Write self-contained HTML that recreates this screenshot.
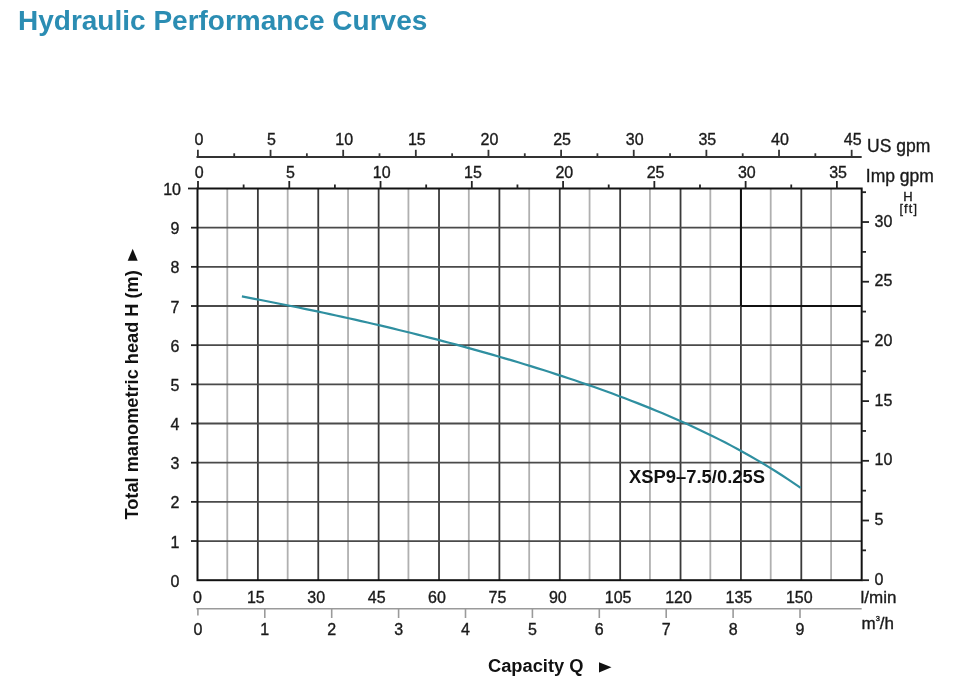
<!DOCTYPE html>
<html><head><meta charset="utf-8"><style>
html,body{margin:0;padding:0;background:#fff;width:971px;height:693px;overflow:hidden}
svg{display:block;filter:blur(0.4px);font-family:"Liberation Sans",sans-serif}
</style></head><body>
<svg width="971" height="693" viewBox="0 0 971 693">
<line x1="227.29" y1="188.50" x2="227.29" y2="580.20" stroke="#b0b0b0" stroke-width="1.8"/>
<line x1="257.88" y1="188.50" x2="257.88" y2="580.20" stroke="#3a3a3a" stroke-width="1.8"/>
<line x1="287.67" y1="188.50" x2="287.67" y2="580.20" stroke="#b0b0b0" stroke-width="1.8"/>
<line x1="318.26" y1="188.50" x2="318.26" y2="580.20" stroke="#3a3a3a" stroke-width="1.8"/>
<line x1="348.05" y1="188.50" x2="348.05" y2="580.20" stroke="#b0b0b0" stroke-width="1.8"/>
<line x1="378.64" y1="188.50" x2="378.64" y2="580.20" stroke="#3a3a3a" stroke-width="1.8"/>
<line x1="408.43" y1="188.50" x2="408.43" y2="580.20" stroke="#b0b0b0" stroke-width="1.8"/>
<line x1="439.02" y1="188.50" x2="439.02" y2="580.20" stroke="#3a3a3a" stroke-width="1.8"/>
<line x1="468.81" y1="188.50" x2="468.81" y2="580.20" stroke="#b0b0b0" stroke-width="1.8"/>
<line x1="499.40" y1="188.50" x2="499.40" y2="580.20" stroke="#3a3a3a" stroke-width="1.8"/>
<line x1="529.19" y1="188.50" x2="529.19" y2="580.20" stroke="#b0b0b0" stroke-width="1.8"/>
<line x1="559.78" y1="188.50" x2="559.78" y2="580.20" stroke="#3a3a3a" stroke-width="1.8"/>
<line x1="589.57" y1="188.50" x2="589.57" y2="580.20" stroke="#b0b0b0" stroke-width="1.8"/>
<line x1="620.16" y1="188.50" x2="620.16" y2="580.20" stroke="#3a3a3a" stroke-width="1.8"/>
<line x1="649.95" y1="188.50" x2="649.95" y2="580.20" stroke="#b0b0b0" stroke-width="1.8"/>
<line x1="680.54" y1="188.50" x2="680.54" y2="580.20" stroke="#3a3a3a" stroke-width="1.8"/>
<line x1="710.33" y1="188.50" x2="710.33" y2="580.20" stroke="#b0b0b0" stroke-width="1.8"/>
<line x1="740.92" y1="188.50" x2="740.92" y2="580.20" stroke="#3a3a3a" stroke-width="1.8"/>
<line x1="770.71" y1="188.50" x2="770.71" y2="580.20" stroke="#b0b0b0" stroke-width="1.8"/>
<line x1="801.30" y1="188.50" x2="801.30" y2="580.20" stroke="#3a3a3a" stroke-width="1.8"/>
<line x1="831.09" y1="188.50" x2="831.09" y2="580.20" stroke="#b0b0b0" stroke-width="1.8"/>
<line x1="197.50" y1="541.03" x2="861.68" y2="541.03" stroke="#4a4a4a" stroke-width="1.8"/>
<line x1="197.50" y1="501.86" x2="861.68" y2="501.86" stroke="#4a4a4a" stroke-width="1.8"/>
<line x1="197.50" y1="462.69" x2="861.68" y2="462.69" stroke="#4a4a4a" stroke-width="1.8"/>
<line x1="197.50" y1="423.52" x2="861.68" y2="423.52" stroke="#4a4a4a" stroke-width="1.8"/>
<line x1="197.50" y1="384.35" x2="861.68" y2="384.35" stroke="#4a4a4a" stroke-width="1.8"/>
<line x1="197.50" y1="345.18" x2="861.68" y2="345.18" stroke="#4a4a4a" stroke-width="1.8"/>
<line x1="197.50" y1="306.01" x2="861.68" y2="306.01" stroke="#4a4a4a" stroke-width="1.8"/>
<line x1="197.50" y1="266.84" x2="861.68" y2="266.84" stroke="#4a4a4a" stroke-width="1.8"/>
<line x1="197.50" y1="227.67" x2="861.68" y2="227.67" stroke="#4a4a4a" stroke-width="1.8"/>
<line x1="740.92" y1="188.50" x2="740.92" y2="306.01" stroke="#111" stroke-width="2"/>
<line x1="740.92" y1="306.01" x2="861.68" y2="306.01" stroke="#111" stroke-width="2"/>
<rect x="197.50" y="188.50" width="664.18" height="391.70" fill="none" stroke="#111" stroke-width="2"/>
<text x="179.50" y="586.80" font-size="16" text-anchor="end" font-weight="normal" fill="#1a1a1a" stroke="#1a1a1a" stroke-width="0.35" >0</text>
<line x1="191.00" y1="541.03" x2="197.50" y2="541.03" stroke="#222" stroke-width="1.8"/>
<text x="179.50" y="547.63" font-size="16" text-anchor="end" font-weight="normal" fill="#1a1a1a" stroke="#1a1a1a" stroke-width="0.35" >1</text>
<line x1="191.00" y1="501.86" x2="197.50" y2="501.86" stroke="#222" stroke-width="1.8"/>
<text x="179.50" y="508.46" font-size="16" text-anchor="end" font-weight="normal" fill="#1a1a1a" stroke="#1a1a1a" stroke-width="0.35" >2</text>
<line x1="191.00" y1="462.69" x2="197.50" y2="462.69" stroke="#222" stroke-width="1.8"/>
<text x="179.50" y="469.29" font-size="16" text-anchor="end" font-weight="normal" fill="#1a1a1a" stroke="#1a1a1a" stroke-width="0.35" >3</text>
<line x1="191.00" y1="423.52" x2="197.50" y2="423.52" stroke="#222" stroke-width="1.8"/>
<text x="179.50" y="430.12" font-size="16" text-anchor="end" font-weight="normal" fill="#1a1a1a" stroke="#1a1a1a" stroke-width="0.35" >4</text>
<line x1="191.00" y1="384.35" x2="197.50" y2="384.35" stroke="#222" stroke-width="1.8"/>
<text x="179.50" y="390.95" font-size="16" text-anchor="end" font-weight="normal" fill="#1a1a1a" stroke="#1a1a1a" stroke-width="0.35" >5</text>
<line x1="191.00" y1="345.18" x2="197.50" y2="345.18" stroke="#222" stroke-width="1.8"/>
<text x="179.50" y="351.78" font-size="16" text-anchor="end" font-weight="normal" fill="#1a1a1a" stroke="#1a1a1a" stroke-width="0.35" >6</text>
<line x1="191.00" y1="306.01" x2="197.50" y2="306.01" stroke="#222" stroke-width="1.8"/>
<text x="179.50" y="312.61" font-size="16" text-anchor="end" font-weight="normal" fill="#1a1a1a" stroke="#1a1a1a" stroke-width="0.35" >7</text>
<line x1="191.00" y1="266.84" x2="197.50" y2="266.84" stroke="#222" stroke-width="1.8"/>
<text x="179.50" y="273.44" font-size="16" text-anchor="end" font-weight="normal" fill="#1a1a1a" stroke="#1a1a1a" stroke-width="0.35" >8</text>
<line x1="191.00" y1="227.67" x2="197.50" y2="227.67" stroke="#222" stroke-width="1.8"/>
<text x="179.50" y="234.27" font-size="16" text-anchor="end" font-weight="normal" fill="#1a1a1a" stroke="#1a1a1a" stroke-width="0.35" >9</text>
<line x1="188.00" y1="188.50" x2="197.50" y2="188.50" stroke="#222" stroke-width="1.8"/>
<text x="181.00" y="195.10" font-size="16" text-anchor="end" font-weight="normal" fill="#1a1a1a" stroke="#1a1a1a" stroke-width="0.35" >10</text>
<line x1="861.68" y1="580.20" x2="869.00" y2="580.20" stroke="#222" stroke-width="1.8"/>
<text x="874.50" y="584.80" font-size="16" text-anchor="start" font-weight="normal" fill="#1a1a1a" stroke="#1a1a1a" stroke-width="0.35" >0</text>
<line x1="861.68" y1="550.35" x2="866.00" y2="550.35" stroke="#222" stroke-width="1.8"/>
<line x1="861.68" y1="520.50" x2="869.00" y2="520.50" stroke="#222" stroke-width="1.8"/>
<text x="874.50" y="525.10" font-size="16" text-anchor="start" font-weight="normal" fill="#1a1a1a" stroke="#1a1a1a" stroke-width="0.35" >5</text>
<line x1="861.68" y1="490.66" x2="866.00" y2="490.66" stroke="#222" stroke-width="1.8"/>
<line x1="861.68" y1="460.81" x2="869.00" y2="460.81" stroke="#222" stroke-width="1.8"/>
<text x="874.50" y="465.41" font-size="16" text-anchor="start" font-weight="normal" fill="#1a1a1a" stroke="#1a1a1a" stroke-width="0.35" >10</text>
<line x1="861.68" y1="430.96" x2="866.00" y2="430.96" stroke="#222" stroke-width="1.8"/>
<line x1="861.68" y1="401.11" x2="869.00" y2="401.11" stroke="#222" stroke-width="1.8"/>
<text x="874.50" y="405.71" font-size="16" text-anchor="start" font-weight="normal" fill="#1a1a1a" stroke="#1a1a1a" stroke-width="0.35" >15</text>
<line x1="861.68" y1="371.26" x2="866.00" y2="371.26" stroke="#222" stroke-width="1.8"/>
<line x1="861.68" y1="341.42" x2="869.00" y2="341.42" stroke="#222" stroke-width="1.8"/>
<text x="874.50" y="346.02" font-size="16" text-anchor="start" font-weight="normal" fill="#1a1a1a" stroke="#1a1a1a" stroke-width="0.35" >20</text>
<line x1="861.68" y1="311.57" x2="866.00" y2="311.57" stroke="#222" stroke-width="1.8"/>
<line x1="861.68" y1="281.72" x2="869.00" y2="281.72" stroke="#222" stroke-width="1.8"/>
<text x="874.50" y="286.32" font-size="16" text-anchor="start" font-weight="normal" fill="#1a1a1a" stroke="#1a1a1a" stroke-width="0.35" >25</text>
<line x1="861.68" y1="251.87" x2="866.00" y2="251.87" stroke="#222" stroke-width="1.8"/>
<line x1="861.68" y1="222.03" x2="869.00" y2="222.03" stroke="#222" stroke-width="1.8"/>
<text x="874.50" y="226.63" font-size="16" text-anchor="start" font-weight="normal" fill="#1a1a1a" stroke="#1a1a1a" stroke-width="0.35" >30</text>
<line x1="861.68" y1="192.18" x2="866.00" y2="192.18" stroke="#222" stroke-width="1.8"/>
<text x="908.00" y="201.20" font-size="13" text-anchor="middle" font-weight="normal" fill="#1a1a1a" stroke="#1a1a1a" stroke-width="0.35" >H</text>
<text x="908.80" y="213.20" font-size="12.5" text-anchor="middle" font-weight="normal" fill="#1a1a1a" stroke="#1a1a1a" stroke-width="0.35" letter-spacing="1.2">[ft]</text>
<line x1="198.00" y1="181.00" x2="198.00" y2="188.50" stroke="#222" stroke-width="1.8"/>
<text x="199.20" y="177.60" font-size="16" text-anchor="middle" font-weight="normal" fill="#1a1a1a" stroke="#1a1a1a" stroke-width="0.35" >0</text>
<line x1="243.63" y1="184.50" x2="243.63" y2="188.50" stroke="#222" stroke-width="1.8"/>
<line x1="289.27" y1="181.00" x2="289.27" y2="188.50" stroke="#222" stroke-width="1.8"/>
<text x="290.47" y="177.60" font-size="16" text-anchor="middle" font-weight="normal" fill="#1a1a1a" stroke="#1a1a1a" stroke-width="0.35" >5</text>
<line x1="334.90" y1="184.50" x2="334.90" y2="188.50" stroke="#222" stroke-width="1.8"/>
<line x1="380.54" y1="181.00" x2="380.54" y2="188.50" stroke="#222" stroke-width="1.8"/>
<text x="381.74" y="177.60" font-size="16" text-anchor="middle" font-weight="normal" fill="#1a1a1a" stroke="#1a1a1a" stroke-width="0.35" >10</text>
<line x1="426.17" y1="184.50" x2="426.17" y2="188.50" stroke="#222" stroke-width="1.8"/>
<line x1="471.81" y1="181.00" x2="471.81" y2="188.50" stroke="#222" stroke-width="1.8"/>
<text x="473.01" y="177.60" font-size="16" text-anchor="middle" font-weight="normal" fill="#1a1a1a" stroke="#1a1a1a" stroke-width="0.35" >15</text>
<line x1="517.44" y1="184.50" x2="517.44" y2="188.50" stroke="#222" stroke-width="1.8"/>
<line x1="563.08" y1="181.00" x2="563.08" y2="188.50" stroke="#222" stroke-width="1.8"/>
<text x="564.28" y="177.60" font-size="16" text-anchor="middle" font-weight="normal" fill="#1a1a1a" stroke="#1a1a1a" stroke-width="0.35" >20</text>
<line x1="608.71" y1="184.50" x2="608.71" y2="188.50" stroke="#222" stroke-width="1.8"/>
<line x1="654.35" y1="181.00" x2="654.35" y2="188.50" stroke="#222" stroke-width="1.8"/>
<text x="655.55" y="177.60" font-size="16" text-anchor="middle" font-weight="normal" fill="#1a1a1a" stroke="#1a1a1a" stroke-width="0.35" >25</text>
<line x1="699.98" y1="184.50" x2="699.98" y2="188.50" stroke="#222" stroke-width="1.8"/>
<line x1="745.62" y1="181.00" x2="745.62" y2="188.50" stroke="#222" stroke-width="1.8"/>
<text x="746.82" y="177.60" font-size="16" text-anchor="middle" font-weight="normal" fill="#1a1a1a" stroke="#1a1a1a" stroke-width="0.35" >30</text>
<line x1="791.25" y1="184.50" x2="791.25" y2="188.50" stroke="#222" stroke-width="1.8"/>
<line x1="836.89" y1="181.00" x2="836.89" y2="188.50" stroke="#222" stroke-width="1.8"/>
<text x="838.09" y="177.60" font-size="16" text-anchor="middle" font-weight="normal" fill="#1a1a1a" stroke="#1a1a1a" stroke-width="0.35" >35</text>
<text x="865.80" y="181.50" font-size="17.5" text-anchor="start" font-weight="normal" fill="#1a1a1a" stroke="#1a1a1a" stroke-width="0.35" >Imp gpm</text>
<line x1="196.50" y1="157.10" x2="861.68" y2="157.10" stroke="#333" stroke-width="2"/>
<line x1="197.90" y1="149.80" x2="197.90" y2="157.10" stroke="#333" stroke-width="1.8"/>
<text x="198.90" y="145.40" font-size="16" text-anchor="middle" font-weight="normal" fill="#1a1a1a" stroke="#1a1a1a" stroke-width="0.35" >0</text>
<line x1="234.22" y1="153.30" x2="234.22" y2="157.10" stroke="#333" stroke-width="1.8"/>
<line x1="270.54" y1="149.80" x2="270.54" y2="157.10" stroke="#333" stroke-width="1.8"/>
<text x="271.54" y="145.40" font-size="16" text-anchor="middle" font-weight="normal" fill="#1a1a1a" stroke="#1a1a1a" stroke-width="0.35" >5</text>
<line x1="306.86" y1="153.30" x2="306.86" y2="157.10" stroke="#333" stroke-width="1.8"/>
<line x1="343.18" y1="149.80" x2="343.18" y2="157.10" stroke="#333" stroke-width="1.8"/>
<text x="344.18" y="145.40" font-size="16" text-anchor="middle" font-weight="normal" fill="#1a1a1a" stroke="#1a1a1a" stroke-width="0.35" >10</text>
<line x1="379.50" y1="153.30" x2="379.50" y2="157.10" stroke="#333" stroke-width="1.8"/>
<line x1="415.82" y1="149.80" x2="415.82" y2="157.10" stroke="#333" stroke-width="1.8"/>
<text x="416.82" y="145.40" font-size="16" text-anchor="middle" font-weight="normal" fill="#1a1a1a" stroke="#1a1a1a" stroke-width="0.35" >15</text>
<line x1="452.14" y1="153.30" x2="452.14" y2="157.10" stroke="#333" stroke-width="1.8"/>
<line x1="488.46" y1="149.80" x2="488.46" y2="157.10" stroke="#333" stroke-width="1.8"/>
<text x="489.46" y="145.40" font-size="16" text-anchor="middle" font-weight="normal" fill="#1a1a1a" stroke="#1a1a1a" stroke-width="0.35" >20</text>
<line x1="524.78" y1="153.30" x2="524.78" y2="157.10" stroke="#333" stroke-width="1.8"/>
<line x1="561.10" y1="149.80" x2="561.10" y2="157.10" stroke="#333" stroke-width="1.8"/>
<text x="562.10" y="145.40" font-size="16" text-anchor="middle" font-weight="normal" fill="#1a1a1a" stroke="#1a1a1a" stroke-width="0.35" >25</text>
<line x1="597.42" y1="153.30" x2="597.42" y2="157.10" stroke="#333" stroke-width="1.8"/>
<line x1="633.74" y1="149.80" x2="633.74" y2="157.10" stroke="#333" stroke-width="1.8"/>
<text x="634.74" y="145.40" font-size="16" text-anchor="middle" font-weight="normal" fill="#1a1a1a" stroke="#1a1a1a" stroke-width="0.35" >30</text>
<line x1="670.06" y1="153.30" x2="670.06" y2="157.10" stroke="#333" stroke-width="1.8"/>
<line x1="706.38" y1="149.80" x2="706.38" y2="157.10" stroke="#333" stroke-width="1.8"/>
<text x="707.38" y="145.40" font-size="16" text-anchor="middle" font-weight="normal" fill="#1a1a1a" stroke="#1a1a1a" stroke-width="0.35" >35</text>
<line x1="742.70" y1="153.30" x2="742.70" y2="157.10" stroke="#333" stroke-width="1.8"/>
<line x1="779.02" y1="149.80" x2="779.02" y2="157.10" stroke="#333" stroke-width="1.8"/>
<text x="780.02" y="145.40" font-size="16" text-anchor="middle" font-weight="normal" fill="#1a1a1a" stroke="#1a1a1a" stroke-width="0.35" >40</text>
<line x1="815.34" y1="153.30" x2="815.34" y2="157.10" stroke="#333" stroke-width="1.8"/>
<line x1="851.66" y1="149.80" x2="851.66" y2="157.10" stroke="#333" stroke-width="1.8"/>
<text x="852.66" y="145.40" font-size="16" text-anchor="middle" font-weight="normal" fill="#1a1a1a" stroke="#1a1a1a" stroke-width="0.35" >45</text>
<text x="867.00" y="151.60" font-size="17.5" text-anchor="start" font-weight="normal" fill="#1a1a1a" stroke="#1a1a1a" stroke-width="0.35" >US gpm</text>
<text x="197.50" y="602.80" font-size="16" text-anchor="middle" font-weight="normal" fill="#1a1a1a" stroke="#1a1a1a" stroke-width="0.35" >0</text>
<text x="255.88" y="602.80" font-size="16" text-anchor="middle" font-weight="normal" fill="#1a1a1a" stroke="#1a1a1a" stroke-width="0.35" >15</text>
<text x="316.26" y="602.80" font-size="16" text-anchor="middle" font-weight="normal" fill="#1a1a1a" stroke="#1a1a1a" stroke-width="0.35" >30</text>
<text x="376.64" y="602.80" font-size="16" text-anchor="middle" font-weight="normal" fill="#1a1a1a" stroke="#1a1a1a" stroke-width="0.35" >45</text>
<text x="437.02" y="602.80" font-size="16" text-anchor="middle" font-weight="normal" fill="#1a1a1a" stroke="#1a1a1a" stroke-width="0.35" >60</text>
<text x="497.40" y="602.80" font-size="16" text-anchor="middle" font-weight="normal" fill="#1a1a1a" stroke="#1a1a1a" stroke-width="0.35" >75</text>
<text x="557.78" y="602.80" font-size="16" text-anchor="middle" font-weight="normal" fill="#1a1a1a" stroke="#1a1a1a" stroke-width="0.35" >90</text>
<text x="618.16" y="602.80" font-size="16" text-anchor="middle" font-weight="normal" fill="#1a1a1a" stroke="#1a1a1a" stroke-width="0.35" >105</text>
<text x="678.54" y="602.80" font-size="16" text-anchor="middle" font-weight="normal" fill="#1a1a1a" stroke="#1a1a1a" stroke-width="0.35" >120</text>
<text x="738.92" y="602.80" font-size="16" text-anchor="middle" font-weight="normal" fill="#1a1a1a" stroke="#1a1a1a" stroke-width="0.35" >135</text>
<text x="799.30" y="602.80" font-size="16" text-anchor="middle" font-weight="normal" fill="#1a1a1a" stroke="#1a1a1a" stroke-width="0.35" >150</text>
<text x="860.50" y="602.50" font-size="17" text-anchor="start" font-weight="normal" fill="#1a1a1a" stroke="#1a1a1a" stroke-width="0.35" >l/min</text>
<line x1="196.50" y1="608.80" x2="861.68" y2="608.80" stroke="#9a9a9a" stroke-width="1.6"/>
<line x1="197.90" y1="608.80" x2="197.90" y2="615.50" stroke="#9a9a9a" stroke-width="1.6"/>
<text x="197.90" y="634.80" font-size="16" text-anchor="middle" font-weight="normal" fill="#1a1a1a" stroke="#1a1a1a" stroke-width="0.35" >0</text>
<line x1="264.80" y1="608.80" x2="264.80" y2="618.00" stroke="#9a9a9a" stroke-width="1.6"/>
<text x="264.80" y="634.80" font-size="16" text-anchor="middle" font-weight="normal" fill="#1a1a1a" stroke="#1a1a1a" stroke-width="0.35" >1</text>
<line x1="331.70" y1="608.80" x2="331.70" y2="618.00" stroke="#9a9a9a" stroke-width="1.6"/>
<text x="331.70" y="634.80" font-size="16" text-anchor="middle" font-weight="normal" fill="#1a1a1a" stroke="#1a1a1a" stroke-width="0.35" >2</text>
<line x1="398.60" y1="608.80" x2="398.60" y2="618.00" stroke="#9a9a9a" stroke-width="1.6"/>
<text x="398.60" y="634.80" font-size="16" text-anchor="middle" font-weight="normal" fill="#1a1a1a" stroke="#1a1a1a" stroke-width="0.35" >3</text>
<line x1="465.50" y1="608.80" x2="465.50" y2="618.00" stroke="#9a9a9a" stroke-width="1.6"/>
<text x="465.50" y="634.80" font-size="16" text-anchor="middle" font-weight="normal" fill="#1a1a1a" stroke="#1a1a1a" stroke-width="0.35" >4</text>
<line x1="532.40" y1="608.80" x2="532.40" y2="618.00" stroke="#9a9a9a" stroke-width="1.6"/>
<text x="532.40" y="634.80" font-size="16" text-anchor="middle" font-weight="normal" fill="#1a1a1a" stroke="#1a1a1a" stroke-width="0.35" >5</text>
<line x1="599.30" y1="608.80" x2="599.30" y2="618.00" stroke="#9a9a9a" stroke-width="1.6"/>
<text x="599.30" y="634.80" font-size="16" text-anchor="middle" font-weight="normal" fill="#1a1a1a" stroke="#1a1a1a" stroke-width="0.35" >6</text>
<line x1="666.20" y1="608.80" x2="666.20" y2="618.00" stroke="#9a9a9a" stroke-width="1.6"/>
<text x="666.20" y="634.80" font-size="16" text-anchor="middle" font-weight="normal" fill="#1a1a1a" stroke="#1a1a1a" stroke-width="0.35" >7</text>
<line x1="733.10" y1="608.80" x2="733.10" y2="618.00" stroke="#9a9a9a" stroke-width="1.6"/>
<text x="733.10" y="634.80" font-size="16" text-anchor="middle" font-weight="normal" fill="#1a1a1a" stroke="#1a1a1a" stroke-width="0.35" >8</text>
<line x1="800.00" y1="608.80" x2="800.00" y2="618.00" stroke="#9a9a9a" stroke-width="1.6"/>
<text x="800.00" y="634.80" font-size="16" text-anchor="middle" font-weight="normal" fill="#1a1a1a" stroke="#1a1a1a" stroke-width="0.35" >9</text>
<text x="861.50" y="628.50" font-size="17" text-anchor="start" font-weight="normal" fill="#1a1a1a" stroke="#1a1a1a" stroke-width="0.35" >m<tspan font-size="7.5" dy="-7.2">3</tspan><tspan dy="7.2">/h</tspan></text>
<polyline points="241.90,296.40 248.18,297.60 254.46,298.81 260.74,300.03 267.01,301.25 273.29,302.48 279.57,303.73 285.85,304.98 292.13,306.25 298.41,307.53 304.69,308.82 310.97,310.12 317.24,311.44 323.52,312.77 329.80,314.12 336.08,315.48 342.36,316.85 348.64,318.25 354.92,319.65 361.19,321.07 367.47,322.51 373.75,323.97 380.03,325.44 386.31,326.93 392.59,328.43 398.87,329.95 405.14,331.49 411.42,333.04 417.70,334.62 423.98,336.21 430.26,337.82 436.54,339.44 442.82,341.09 449.10,342.75 455.37,344.43 461.65,346.13 467.93,347.85 474.21,349.59 480.49,351.34 486.77,353.12 493.05,354.92 499.32,356.74 505.60,358.58 511.88,360.43 518.16,362.32 524.44,364.22 530.72,366.15 537.00,368.10 543.28,370.07 549.55,372.07 555.83,374.09 562.11,376.14 568.39,378.22 574.67,380.32 580.95,382.45 587.23,384.62 593.50,386.81 599.78,389.03 606.06,391.29 612.34,393.58 618.62,395.91 624.90,398.28 631.18,400.68 637.46,403.12 643.73,405.61 650.01,408.14 656.29,410.71 662.57,413.33 668.85,416.00 675.13,418.72 681.41,421.49 687.68,424.32 693.96,427.21 700.24,430.16 706.52,433.17 712.80,436.24 719.08,439.39 725.36,442.60 731.63,445.89 737.91,449.26 744.19,452.70 750.47,456.24 756.75,459.85 763.03,463.56 769.31,467.36 775.59,471.26 781.86,475.27 788.14,479.38 794.42,483.60 800.70,487.93" fill="none" stroke="#2f8fa0" stroke-width="2.2" stroke-linejoin="round"/>
<text x="629.00" y="483.00" font-size="18.4" text-anchor="start" font-weight="bold" fill="#111" >XSP9–7.5/0.25S</text>
<text x="488.00" y="672.20" font-size="18.3" text-anchor="start" font-weight="bold" fill="#111" >Capacity Q</text>
<polygon points="599,662.3 611.5,667.3 599,672.4" fill="#111"/>
<text transform="translate(137.6,519.5) rotate(-90)" font-size="18.2" font-weight="bold" fill="#111">Total manometric head H (m)</text>
<polygon points="127.7,260.8 132.7,248.7 137.7,260.8" fill="#111"/>
<text x="18.00" y="30.30" font-size="28" text-anchor="start" font-weight="bold" fill="#2b8db3" >Hydraulic Performance Curves</text>
</svg></body></html>
